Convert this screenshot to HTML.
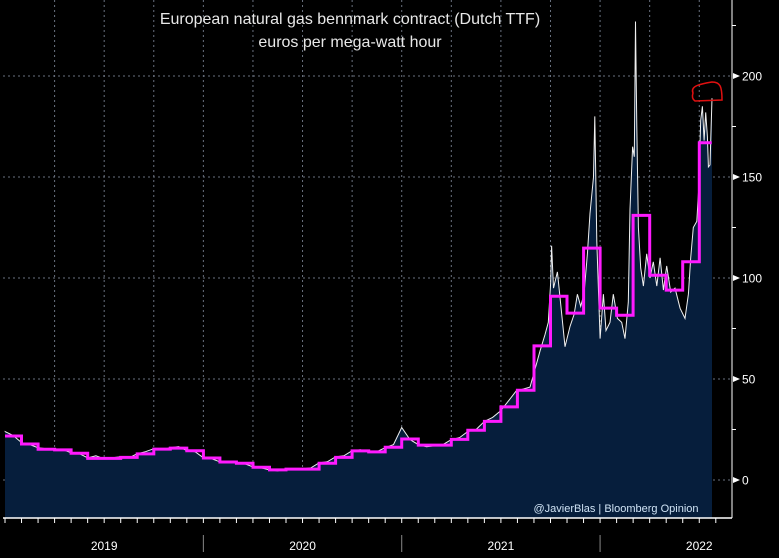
<!DOCTYPE html>
<html><head><meta charset="utf-8">
<style>
html,body{margin:0;padding:0;background:#000;}
svg{display:block;font-family:"Liberation Sans",sans-serif;}
</style></head>
<body>
<svg id="chart" width="779" height="558" viewBox="0 0 779 558">
  <rect x="0" y="0" width="779" height="558" fill="#000"/>
  <g id="grid"></g>
  <g id="area"></g>
  <g id="series"></g>
  <g id="axes"></g>
  <text x="350" y="24" fill="#e8e8e8" font-size="16" text-anchor="middle">European natural gas bennmark contract (Dutch TTF)</text>
  <text x="350" y="47" fill="#e8e8e8" font-size="16" text-anchor="middle">euros per mega-watt hour</text>
  <text x="616" y="512" fill="#cfe3f5" font-size="11" text-anchor="middle">@JavierBlas | Bloomberg Opinion</text>
  <path d="M693,93 C690,86 700,84 712,82 C720,82 722,86 722,100 L695,101 C692,99 692,96 693,93 Z" fill="none" stroke="#e01010" stroke-width="1.5"/>
</svg>
<script>
// monthly average (magenta step), month index 0 = Jan 2019
const stepMonths = [0,1,2,3,4,5,6,7,8,9,10,11,12,13,14,15,16,17,18,19,20,21,22,23,24,25,26,27,28,29,30,31,32,33,34,35,36,37,38,39,40,41,42];
const stepValues = [21.8,17.8,15.2,14.9,13.2,10.7,10.7,11.2,12.9,15.3,15.8,14.5,10.9,8.9,8.3,6.3,5.0,5.4,5.4,8.3,11.2,14.4,13.9,16.2,20.3,17.3,17.3,20.1,24.6,29.0,36.2,44.4,66.4,91,82.6,114.8,85.1,81.6,131,101.4,94,108,167];
// daily price (sampled every half month from Jan 2019)
const earlyValues = [24,22,18.5,17.5,16,15.5,15.5,15,13.5,13,11,12,10.5,11,11.5,11,13,14,15.5,15,16,16.5,14.5,14,11,10.5,9,9,8.5,8,6.5,6,5,4.5,5.5,5.5,5.5,6,8.5,9,11.5,12,14.5,15,14,14,16,17.5,26,20,17.5,16.5,17,17.5,20,21,24,25,29,31];
const lateMonths = [29.95,30.35,30.92,31.76,32.07,32.37,32.67,32.87,33.01,33.07,33.18,33.42,33.58,33.88,34.18,34.43,34.63,34.83,35.03,35.23,35.39,35.6,35.68,35.8,36.0,36.2,36.36,36.6,36.8,37.05,37.31,37.51,37.71,37.81,37.97,38.07,38.14,38.22,38.32,38.46,38.62,38.82,39.02,39.22,39.43,39.63,39.83,40.03,40.27,40.53,40.84,41.14,41.34,41.48,41.64,41.85,41.97,42.09,42.19,42.29,42.39,42.49,42.55,42.65,42.77];
const lateValues = [34,38,44,46,55,64,72,78,98,116,95,103,90,66,76,82,92,86,92,112,132,150,180,118,70,92,74,78,92,80,78,70,88,134,165,160,227,175,125,105,96,112,100,108,96,110,94,106,93,95,85,80,92,110,125,128,145,178,185,168,182,170,155,156,189];
const yTicks = [0,50,100,150,200];
const yMinor = [25,75,125,175,225];
const years = ["2019","2020","2021","2022"];

const X = m => 5 + m * 16.53;
const Y = v => 480 - v * 2.02;
const NS = "http://www.w3.org/2000/svg";
function mk(tag, attrs, parent){const e=document.createElementNS(NS,tag);for(const k in attrs)e.setAttribute(k,attrs[k]);parent.appendChild(e);return e;}
const grid=document.getElementById('grid'), area=document.getElementById('area'), series=document.getElementById('series'), axes=document.getElementById('axes');

yTicks.forEach(t=>{
  const l=mk('line',{x1:3,x2:732,y1:Y(t),y2:Y(t),stroke:'#6a7280','stroke-width':1,'stroke-dasharray':'2,3'},grid);
  
  
});
for(let q=3;q<=42;q+=3){
  const l=mk('line',{x1:X(q),x2:X(q),y1:0,y2:518,stroke:'#6a7280','stroke-width':1,'stroke-dasharray':'2,3'},grid);
  
  
}

const pts=[];
earlyValues.forEach((v,i)=>pts.push([i*0.5,v]));
lateMonths.forEach((m,i)=>pts.push([m,lateValues[i]]));
let d='M'+X(pts[0][0])+','+Y(pts[0][1]);
pts.forEach(p=>{d+=' L'+X(p[0]).toFixed(1)+','+Y(p[1]).toFixed(1);});
const fillD=d+' L'+X(pts[pts.length-1][0]).toFixed(1)+',518 L'+X(pts[0][0])+',518 Z';
const fa=mk('path',{d:fillD,fill:'#061e3c'},area);


const ln=mk('path',{d:d,fill:'none',stroke:'#f0f0f0','stroke-width':1},series);



let sd='';
stepMonths.forEach((m,i)=>{
  const y=Y(stepValues[i]).toFixed(1);
  const end = i===stepMonths.length-1 ? 42.75 : m+1;
  sd += (i===0?'M':' L')+X(m).toFixed(1)+','+y+' L'+X(end).toFixed(1)+','+y;
});
const st=mk('path',{d:sd,fill:'none',stroke:'#ff1aff','stroke-width':3},series);



const ra=mk('line',{x1:732,x2:732,y1:0,y2:518,stroke:'#fff','stroke-width':1},axes);


const ba=mk('line',{x1:3,x2:732,y1:518,y2:518,stroke:'#fff','stroke-width':1.5},axes);


yTicks.forEach(t=>{
  const tr=mk('path',{d:`M733,${Y(t)-3} l7,3 l-7,3 Z`,fill:'#fff'},axes);
  
  
  const tx=mk('text',{x:742,y:Y(t)+4.5,fill:'#fff','font-size':12},axes);
  tx.textContent=t;
  
  
});
yMinor.forEach(t=>{
  const l=mk('line',{x1:732,x2:736,y1:Y(t),y2:Y(t),stroke:'#fff'},axes);
  
  
});
for(let m=0;m<=44;m++){
  const x=X(m); if(x>732) break;
  const l=mk('line',{x1:x,x2:x,y1:518,y2:523,stroke:'#fff'},axes);
  
  
}
years.forEach((yr,i)=>{
  const tx=mk('text',{x:X(i*12+6),y:550,fill:'#fff','font-size':12,'text-anchor':'middle'},axes);
  tx.textContent=yr;
  
  
  if(i>0){
    const s=mk('line',{x1:X(i*12),x2:X(i*12),y1:535,y2:552,stroke:'#888'},axes);
    
    
  }
});
</script>
</body></html>
